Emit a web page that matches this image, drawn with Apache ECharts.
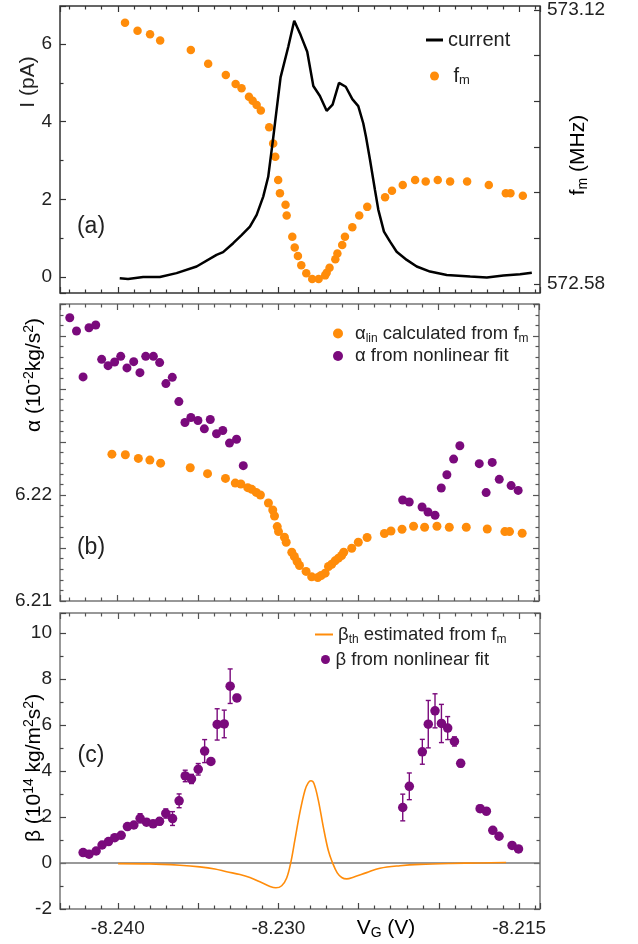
<!DOCTYPE html>
<html><head><meta charset="utf-8">
<script src="https://cdn.jsdelivr.net/npm/echarts@6/dist/echarts.min.js"></script>
<style>html,body{margin:0;padding:0;background:#fff}#c{width:638px;height:944px}</style>
</head><body><div id="c"></div>
<script>
// ---------- data ----------
const vCurrent = [-8.23988,-8.23936,-8.23842,-8.23738,-8.23634,-8.23509,-8.23385,-8.23344,-8.23281,-8.23229,-8.23177,-8.23135,-8.23094,-8.23063,-8.23032,-8.23011,-8.22986,-8.22938,-8.22901,-8.22861,-8.2282,-8.22782,-8.22741,-8.22699,-8.22662,-8.22622,-8.2258,-8.22539,-8.22502,-8.22471,-8.22454,-8.22429,-8.22398,-8.22377,-8.22342,-8.22304,-8.22263,-8.222,-8.22138,-8.22055,-8.21951,-8.21805,-8.21701,-8.21598,-8.21494,-8.21421];
const current = [-0.03,-0.05,0.0,0.0,0.1,0.27,0.57,0.64,0.87,1.08,1.30,1.60,2.07,2.58,3.58,4.30,5.14,5.93,6.60,6.23,5.80,4.92,4.66,4.28,4.44,5.00,4.90,4.58,4.40,3.96,3.61,3.02,2.24,1.73,1.17,0.91,0.65,0.44,0.27,0.14,0.05,0.01,-0.01,0.04,0.07,0.11];

const vFm = [-8.23955,-8.23877,-8.23799,-8.23736,-8.23545,-8.23437,-8.23327,-8.23266,-8.23229,-8.23183,-8.2316,-8.23135,-8.23109,-8.23057,-8.23032,-8.23019,-8.23001,-8.2299,-8.22955,-8.22948,-8.22913,-8.22898,-8.22878,-8.22857,-8.22826,-8.22789,-8.22749,-8.22708,-8.22699,-8.22681,-8.22645,-8.22632,-8.22602,-8.22585,-8.22539,-8.22496,-8.22446,-8.22335,-8.22292,-8.22225,-8.22148,-8.22082,-8.22007,-8.2193,-8.21824,-8.21689,-8.21583,-8.21554,-8.21477];
const fm = [573.095,573.079,573.072,573.060,573.041,573.014,572.992,572.974,572.966,572.949,572.941,572.933,572.922,572.889,572.857,572.831,572.785,572.759,572.736,572.715,572.673,572.652,572.635,572.617,572.601,572.590,572.590,572.597,572.602,572.612,572.629,572.640,572.657,572.673,572.692,572.715,572.732,572.751,572.764,572.775,572.785,572.782,572.785,572.782,572.782,572.775,572.759,572.759,572.754];

const vAlphaLin = [-8.24036,-8.23952,-8.23871,-8.23799,-8.23732,-8.23547,-8.23439,-8.23327,-8.23266,-8.23231,-8.23188,-8.23163,-8.23135,-8.23109,-8.23059,-8.23032,-8.23021,-8.23004,-8.22996,-8.22959,-8.22948,-8.22913,-8.22897,-8.2288,-8.22865,-8.22824,-8.22789,-8.22751,-8.2273,-8.22705,-8.22684,-8.22664,-8.22643,-8.22622,-8.22602,-8.22589,-8.22539,-8.22498,-8.22443,-8.22335,-8.22294,-8.22225,-8.22153,-8.22084,-8.22007,-8.2193,-8.21824,-8.21693,-8.21583,-8.21554,-8.21475];
const alphaLin = [6.22386,6.22380,6.22346,6.22330,6.22301,6.22258,6.22202,6.22157,6.22113,6.22104,6.22070,6.22054,6.22025,6.22000,6.21925,6.21859,6.21802,6.21702,6.21655,6.21602,6.21555,6.21460,6.21420,6.21373,6.21335,6.21279,6.21228,6.21222,6.21241,6.21263,6.21326,6.21347,6.21379,6.21404,6.21429,6.21460,6.21498,6.21555,6.21599,6.21637,6.21661,6.21677,6.21705,6.21696,6.21705,6.21696,6.21696,6.21680,6.21655,6.21655,6.21639];

const vAlphaFit = [-8.24299,-8.24257,-8.24216,-8.24179,-8.24137,-8.24100,-8.24060,-8.24019,-8.23981,-8.23942,-8.23900,-8.23861,-8.23825,-8.23777,-8.23738,-8.23699,-8.23659,-8.23618,-8.23580,-8.23543,-8.23499,-8.23459,-8.23422,-8.23383,-8.23344,-8.23302,-8.23258,-8.23216,-8.22221,-8.22180,-8.22100,-8.22063,-8.22019,-8.21980,-8.21945,-8.21903,-8.21864,-8.21743,-8.21700,-8.21662,-8.21618,-8.21544,-8.21500];
const alphaFit = [6.23673,6.23548,6.23115,6.23579,6.23605,6.23281,6.23221,6.23256,6.23309,6.23200,6.23259,6.23155,6.23309,6.23309,6.23250,6.23052,6.23111,6.22882,6.22685,6.22732,6.22703,6.22625,6.22713,6.22578,6.22609,6.22490,6.22527,6.22277,6.21953,6.21934,6.21887,6.21840,6.21809,6.22066,6.22192,6.22339,6.22465,6.22296,6.22023,6.22308,6.22148,6.22089,6.22044];

const vBetaTh = [-8.23998,-8.23800,-8.23613,-8.23489,-8.23395,-8.23322,-8.23239,-8.23177,-8.23115,-8.23052,-8.23015,-8.22979,-8.22948,-8.22923,-8.22897,-8.22865,-8.22834,-8.22814,-8.22797,-8.22778,-8.22751,-8.2272,-8.22689,-8.22662,-8.22633,-8.22605,-8.22574,-8.22533,-8.2245,-8.22367,-8.22242,-8.22117,-8.2193,-8.21743,-8.21581];
const betaTh = [-0.03,-0.04,-0.10,-0.17,-0.26,-0.38,-0.50,-0.63,-0.82,-1.02,-1.08,-0.99,-0.65,0.0,0.99,2.22,3.16,3.48,3.57,3.45,2.73,1.57,0.55,0.0,-0.43,-0.63,-0.69,-0.62,-0.42,-0.23,-0.12,-0.06,-0.02,0.0,0.02];

const vBetaFit = [-8.24216,-8.24179,-8.24135,-8.24098,-8.24058,-8.24019,-8.23979,-8.2394,-8.23900,-8.23861,-8.23821,-8.2378,-8.2374,-8.23701,-8.23659,-8.23618,-8.2358,-8.23541,-8.23499,-8.23459,-8.2342,-8.23381,-8.23337,-8.233,-8.23258,-8.22225,-8.22184,-8.22103,-8.22066,-8.22024,-8.21984,-8.21945,-8.21903,-8.21864,-8.21743,-8.21704,-8.21664,-8.21625,-8.21544,-8.21504];
const betaFit = [0.45,0.38,0.52,0.78,0.93,1.10,1.20,1.58,1.65,1.94,1.77,1.70,1.81,2.15,1.93,2.70,3.78,3.65,4.07,4.86,4.41,6.02,6.04,7.68,7.17,2.41,3.33,4.83,6.03,6.61,6.06,5.86,5.28,4.33,2.36,2.25,1.42,1.16,0.76,0.61];
const betaErr = [0.05,0.05,0.05,0.06,0.06,0.07,0.07,0.1,0.1,0.2,0.1,0.1,0.15,0.2,0.3,0.3,0.25,0.2,0.25,0.5,0.1,0.68,0.6,0.75,0.15,0.58,0.58,0.54,1.03,0.74,0.83,0.5,0.2,0.15,0.15,0.15,0.05,0.05,0.05,0.05];

const xTickLabels = ['-8.240','-8.230','-8.215'];
const iTickLabels = ['0','2','4','6'];
const fmTickLabels = ['572.58','573.12'];
const alphaTickLabels = ['6.21','6.22'];
const betaTickLabels = ['-2','0','2','4','6','8','10'];

// ---------- style ----------
const ORANGE = '#FF8C0A', PURPLE = '#7A0A7C', TXT = '#222';
const FONT = '"Liberation Sans", Arial, sans-serif';
const FS = 19;
const X_MIN = -8.2436, X_MAX = -8.2137;
const zip = (a, b) => a.map((v, i) => [v, b[i]]);

function tickCfg(color){ return {show:true, inside:true, length:6, lineStyle:{color:color, width:1.2}}; }
function minorCfg(color, n){ return {show:true, splitNumber:n, length:3.5, lineStyle:{color:color, width:1.2}}; }
function intLabel(list){ return v => { const r = Math.round(v); return (Math.abs(v - r) < 1e-6 && list.includes(String(r))) ? String(r) : ''; }; }

function xAx(grid, pos, color, labels){
  return {type:'value', gridIndex:grid, position:pos, min:X_MIN, max:X_MAX, splitNumber:6,
    splitLine:{show:false}, axisLine:{show:false, onZero:false},
    axisTick:tickCfg(color), minorTick:minorCfg(color,5),
    axisLabel: labels ? {show:true, margin:10, fontSize:FS, fontFamily:FONT, color:TXT,
      formatter:v=>{const s=v.toFixed(3); return xTickLabels.includes(s)?s:'';}} : {show:false}};
}

function richFor(fs){
  return {
    a:{fontSize:fs, fontFamily:FONT, color:TXT, lineHeight:22},
    s:{fontSize:Math.round(fs*0.66), fontFamily:FONT, color:TXT, lineHeight:13, verticalAlign:'bottom'}
  };
}
const legendText = {
  'current':'{a|current}',
  'fm':'{a|f}{s|m}',
  'alphaLin':'{a|α}{s|lin}{a| calculated from f}{s|m}',
  'alphaFit':'{a|α from nonlinear fit}',
  'betaTh':'{a|β}{s|th}{a| estimated from f}{s|m}',
  'betaFit':'{a|β from nonlinear fit}'
};
function legend(names, left, top, icon, w, h, gap, fs){
  return {data:names.map(n=>({name:n, icon:icon})), left:left, top:top, orient:'vertical',
    itemWidth:w, itemHeight:h, itemGap:gap, padding:0, selectedMode:false,
    formatter:n=>legendText[n], textStyle:{rich:richFor(fs), fontSize:fs, fontFamily:FONT, color:TXT}};
}

const option = {
  animation:false,
  backgroundColor:'#fff',
  grid:[
    {left:60, top:6, width:480, height:287, show:true, borderColor:'#333', borderWidth:1.5, backgroundColor:'transparent'},
    {left:60, top:10, width:480, height:274, show:false},
    {left:60, top:304, width:479, height:297, show:true, borderColor:'#777', borderWidth:1.5, backgroundColor:'transparent'},
    {left:60, top:613, width:480, height:296, show:true, borderColor:'#777', borderWidth:1.5, backgroundColor:'transparent'}
  ],
  xAxis:[
    xAx(0,'bottom','#333',false),
    xAx(0,'top','#333',false),
    Object.assign(xAx(1,'bottom','#333',false),{show:false}),
    xAx(2,'bottom','#555',false),
    xAx(2,'top','#555',false),
    xAx(3,'bottom','#444',true),
    xAx(3,'top','#555',false)
  ],
  yAxis:[
    {type:'value', gridIndex:0, position:'left', min:-0.412, max:6.979, splitNumber:4,
      splitLine:{show:false}, axisLine:{show:false, onZero:false}, axisTick:tickCfg('#333'), minorTick:minorCfg('#333',2),
      axisLabel:{margin:8, fontSize:FS, fontFamily:FONT, color:TXT, formatter:intLabel(iTickLabels)}},
    {type:'value', gridIndex:1, position:'right', min:572.58, max:573.12, interval:0.09,
      splitLine:{show:false}, axisLine:{show:false, onZero:false}, axisTick:tickCfg('#333'),
      axisLabel:{margin:7, fontSize:FS, fontFamily:FONT, color:TXT,
        formatter:v=>{const s=v.toFixed(2); return fmTickLabels.includes(s)?s:'';}}},
    {type:'value', gridIndex:2, position:'left', min:6.21, max:6.23803, interval:0.005,
      splitLine:{show:false}, axisLine:{show:false, onZero:false}, axisTick:tickCfg('#555'), minorTick:minorCfg('#555',5),
      axisLabel:{margin:8, fontSize:FS, fontFamily:FONT, color:TXT,
        formatter:v=>{const s=v.toFixed(2); return (alphaTickLabels.includes(s) && Math.abs(v-parseFloat(s))<1e-7)?s:'';}}},
    {type:'value', gridIndex:2, position:'right', min:6.21, max:6.23803, interval:0.005,
      splitLine:{show:false}, axisLine:{show:false, onZero:false}, axisTick:tickCfg('#555'), minorTick:minorCfg('#555',5),
      axisLabel:{show:false}},
    {type:'value', gridIndex:3, position:'left', min:-2, max:10.86, interval:2,
      splitLine:{show:false}, axisLine:{show:false, onZero:false}, axisTick:tickCfg('#444'), minorTick:minorCfg('#444',2),
      axisLabel:{margin:8, fontSize:FS, fontFamily:FONT, color:TXT, formatter:intLabel(betaTickLabels)}},
    {type:'value', gridIndex:3, position:'right', min:-2, max:10.86, interval:2,
      splitLine:{show:false}, axisLine:{show:false, onZero:false}, axisTick:tickCfg('#555'), minorTick:minorCfg('#555',2),
      axisLabel:{show:false}}
  ],
  legend:[
    legend(['current'], 426, 30, 'rect', 17, 3, 2, 20),
    legend(['fm'], 430, 66, 'circle', 28, 9, 2, 20),
    legend(['alphaLin','alphaFit'], 333, 324, 'circle', 24, 10, 2, 18.5),
    legend(['betaTh'], 315, 625, 'rect', 18, 2, 2, 18.5),
    legend(['betaFit'], 321, 650, 'circle', 10, 9, 2, 18.5)
  ],
  series:[
    {name:'fm', type:'scatter', xAxisIndex:2, yAxisIndex:1, data:zip(vFm, fm), symbolSize:8.5,
      itemStyle:{color:ORANGE, opacity:1}, z:2},
    {name:'current', type:'line', xAxisIndex:0, yAxisIndex:0, data:zip(vCurrent, current), symbol:'none',
      lineStyle:{color:'#000', width:2.5}, itemStyle:{color:'#000'}, z:3},
    {name:'alphaLin', type:'scatter', xAxisIndex:3, yAxisIndex:2, data:zip(vAlphaLin, alphaLin), symbolSize:9,
      itemStyle:{color:ORANGE, opacity:1}},
    {name:'alphaFit', type:'scatter', xAxisIndex:3, yAxisIndex:2, data:zip(vAlphaFit, alphaFit), symbolSize:9,
      itemStyle:{color:PURPLE, opacity:1}},
    {name:'betaTh', type:'line', xAxisIndex:5, yAxisIndex:4, data:zip(vBetaTh, betaTh), symbol:'none', smooth:0.35,
      lineStyle:{color:ORANGE, width:1.6}, itemStyle:{color:ORANGE}, z:3,
      markLine:{silent:true, symbol:'none', label:{show:false}, lineStyle:{color:'#777', width:1.5, type:'solid'},
        data:[{yAxis:0}], z:1}},
    {name:'betaErr', type:'custom', xAxisIndex:5, yAxisIndex:4,
      data:vBetaFit.map((v,i)=>[v, betaFit[i]-betaErr[i], betaFit[i]+betaErr[i]]),
      encode:{x:0, y:[1,2]}, z:4,
      renderItem:function(params, api){
        const x = api.value(0);
        const lo = api.coord([x, api.value(1)]);
        const hi = api.coord([x, api.value(2)]);
        const w = 2.5;
        const st = {stroke:PURPLE, lineWidth:1.4};
        return {type:'group', children:[
          {type:'line', shape:{x1:lo[0], y1:lo[1], x2:hi[0], y2:hi[1]}, style:st},
          {type:'line', shape:{x1:lo[0]-w, y1:lo[1], x2:lo[0]+w, y2:lo[1]}, style:st},
          {type:'line', shape:{x1:hi[0]-w, y1:hi[1], x2:hi[0]+w, y2:hi[1]}, style:st}
        ]};
      }},
    {name:'betaFit', type:'scatter', xAxisIndex:5, yAxisIndex:4, data:zip(vBetaFit, betaFit), symbolSize:9.5,
      itemStyle:{color:PURPLE, opacity:1}, z:5}
  ],
  graphic:[
    {type:'text', x:28, y:82, rotation:Math.PI/2, style:{text:'I (pA)', font:'21px '+FONT, fill:TXT, align:'center', verticalAlign:'middle'}},
    {type:'text', x:578, y:155, rotation:Math.PI/2, style:{text:'{a|f}{s|m}{a| (MHz)}', rich:{a:{fontSize:21, fontFamily:FONT, color:TXT, lineHeight:24}, s:{fontSize:14, fontFamily:FONT, color:TXT, lineHeight:14, verticalAlign:'bottom'}}, align:'center', verticalAlign:'middle'}},
    {type:'text', x:34, y:375, rotation:Math.PI/2, style:{text:'{a|α (10}{p|-2}{a|kg/s}{p|2}{a|)}', rich:{a:{fontSize:21, fontFamily:FONT, color:TXT, lineHeight:24}, p:{fontSize:14, fontFamily:FONT, color:TXT, lineHeight:14, verticalAlign:'top'}}, align:'center', verticalAlign:'middle'}},
    {type:'text', x:34, y:768, rotation:Math.PI/2, style:{text:'{a|β (10}{p|14}{a| kg/m}{p|2}{a|s}{p|2}{a|)}', rich:{a:{fontSize:21, fontFamily:FONT, color:TXT, lineHeight:24}, p:{fontSize:14, fontFamily:FONT, color:TXT, lineHeight:14, verticalAlign:'top'}}, align:'center', verticalAlign:'middle'}},
    {type:'text', x:386, y:928, style:{text:'{a|V}{s|G}{a| (V)}', rich:{a:{fontSize:21, fontFamily:FONT, color:TXT, lineHeight:24}, s:{fontSize:14, fontFamily:FONT, color:TXT, lineHeight:14, verticalAlign:'bottom'}}, align:'center', verticalAlign:'middle'}},
    {type:'text', x:91, y:227, style:{text:'(a)', font:'23px '+FONT, fill:TXT, align:'center', verticalAlign:'middle'}},
    {type:'text', x:91, y:548, style:{text:'(b)', font:'23px '+FONT, fill:TXT, align:'center', verticalAlign:'middle'}},
    {type:'text', x:91, y:756, style:{text:'(c)', font:'23px '+FONT, fill:TXT, align:'center', verticalAlign:'middle'}}
  ]
};
const chart = echarts.init(document.getElementById('c'), null, {renderer:'canvas'});
chart.setOption(option);
</script>
</body></html>
